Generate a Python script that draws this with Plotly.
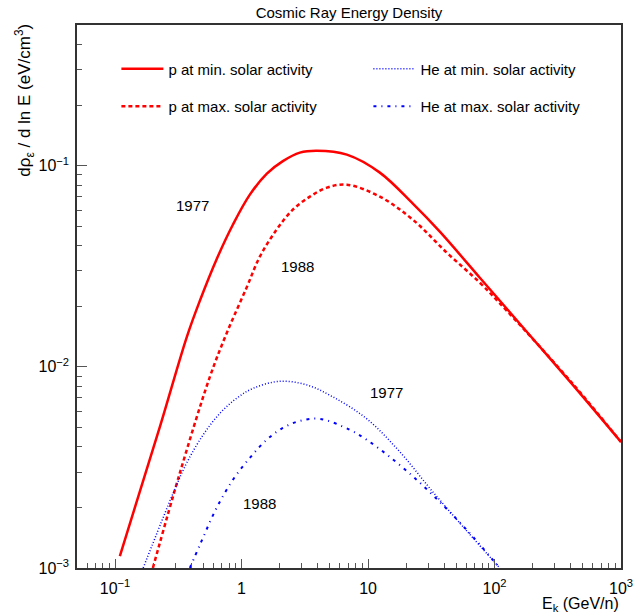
import plotly.graph_objects as go

# ---- data ----
p_min_E = [0.1091, 0.2260, 0.3694, 0.4681, 0.6378, 0.8535, 1.163, 1.585, 2.121, 2.890, 3.938, 6.800, 12.40, 22.61, 36.95, 76.53, 125.1, 228.1, 415.9, 1000]
p_min_y = [0.001147, 0.005029, 0.01410, 0.02130, 0.03446, 0.05085, 0.07173, 0.09125, 0.1053, 0.1161, 0.1187, 0.1134, 0.09231, 0.06470, 0.04694, 0.02772, 0.01943, 0.01258, 0.008135, 0.004234]

p_max_E = [0.1990, 0.3253, 0.5616, 0.7651, 1.095, 1.395, 1.891, 2.544, 3.467, 4.724, 6.800, 12.40, 22.61, 41.97, 76.53, 125.1, 415.9, 1000]
p_max_y = [0.001, 0.002970, 0.008916, 0.01476, 0.02472, 0.03527, 0.04802, 0.06040, 0.07013, 0.07771, 0.08043, 0.07013, 0.05386, 0.03692, 0.02618, 0.01899, 0.008229, 0.00423]

he_min_E = [0.1668, 0.2878, 0.3674, 0.4970, 0.6740, 0.9130, 1.235, 2.008, 3.265, 5.269, 9.784, 17.84, 32.54, 60.40, 110.1]
he_min_y = [0.001, 0.002353, 0.003318, 0.004590, 0.005870, 0.006972, 0.007816, 0.008472, 0.008135, 0.007090, 0.005511, 0.003777, 0.002388, 0.001528, 0.001]

he_max_E = [0.3902, 0.4681, 0.6344, 0.8535, 1.163, 1.576, 2.121, 2.890, 4.159, 7.179, 9.784, 14.87, 24.31, 39.02, 60.40, 110.1]
he_max_y = [0.001, 0.001302, 0.001988, 0.002741, 0.003526, 0.004333, 0.004970, 0.005386, 0.005511, 0.004858, 0.004333, 0.003566, 0.002741, 0.002058, 0.001545, 0.001]

x_tickvals = [0.1, 1, 10, 100, 1000]
x_ticktext = ["10<sup>−1</sup>", "1", "10", "10<sup>2</sup>", "10<sup>3</sup>"]
y_tickvals = [0.001, 0.01, 0.1]
y_ticktext = ["10<sup>−3</sup>", "10<sup>−2</sup>", "10<sup>−1</sup>"]

year_labels = ["1977", "1988", "1977", "1988"]
year_x = [-0.385, 0.445, 1.149, 0.145]      # log10(E) positions
year_y = [-1.199, -1.502, -2.129, -2.677]   # log10(y) positions

FONT = "Liberation Sans"
RED = "#ff0000"
BLUE = "#0000ff"

fig = go.Figure()
fig.add_trace(go.Scatter(x=p_min_E, y=p_min_y, mode="lines", name="p at min. solar activity",
                         line=dict(color=RED, width=2.5, shape="spline"), legend="legend", legendgroup="a"))
fig.add_trace(go.Scatter(x=p_max_E, y=p_max_y, mode="lines", name="p at max. solar activity",
                         line=dict(color=RED, width=2.5, dash="4px,3px", shape="spline"), legend="legend", legendgroup="b"))
fig.add_trace(go.Scatter(x=he_min_E, y=he_min_y, mode="lines", name="He at min. solar activity",
                         line=dict(color=BLUE, width=1.5, dash="1px,2px", shape="spline"), legend="legend2", legendgroup="c"))
fig.add_trace(go.Scatter(x=he_max_E, y=he_max_y, mode="lines", name="He at max. solar activity",
                         line=dict(color=BLUE, width=2, dash="3px,5px,1px,5px", shape="spline"), legend="legend2", legendgroup="d"))

minor_x = [m * 10 ** k for k in range(-2, 3) for m in range(2, 10)]
minor_x = [v for v in minor_x if 0.05 <= v <= 1000]
minor_y = [m * 10 ** k for k in range(-3, 0) for m in range(2, 10)]
minor_y = [v for v in minor_y if v <= 0.5]

axis_common = dict(showgrid=False, zeroline=False, showline=True, linecolor="#333333", linewidth=1.5,
                   mirror=True, ticks="inside", tickcolor="#555555", tickwidth=1.2, automargin=False,
                   tickfont=dict(family=FONT, size=16, color="black"))

fig.update_xaxes(type="log", range=[-1.30103, 3], tickmode="array", tickvals=x_tickvals, ticktext=x_ticktext,
                 ticklen=9, ticklabelstandoff=5,
                 minor=dict(ticks="inside", ticklen=5, tickvals=minor_x, tickcolor="#555555", tickwidth=1.2),
                 **axis_common)
fig.update_yaxes(type="log", range=[-3, -0.30103], tickmode="array", tickvals=y_tickvals, ticktext=y_ticktext,
                 ticklen=10, ticklabelstandoff=3,
                 minor=dict(ticks="inside", ticklen=5, tickvals=minor_y, tickcolor="#555555", tickwidth=1.2),
                 **axis_common)

annotations = []
for t, ax, ay in zip(year_labels, year_x, year_y):
    annotations.append(dict(x=ax, y=ay, xref="x", yref="y", text=t, showarrow=False,
                            font=dict(family=FONT, size=15, color="black")))
annotations.append(dict(x=-0.096, y=0.862, xref="paper", yref="paper", xanchor="center", yanchor="middle",
                        text="dρ<sub>ε</sub> / d ln E (eV/cm<sup>3</sup>)", textangle=-90, showarrow=False,
                        font=dict(family=FONT, size=17, color="black")))
annotations.append(dict(x=1.0, y=-0.068, xref="paper", yref="paper", xanchor="right", yanchor="middle",
                        text="E<sub>k</sub> (GeV/n)", showarrow=False,
                        font=dict(family=FONT, size=16, color="black")))

leg_common = dict(xanchor="left", yanchor="top", bgcolor="rgba(0,0,0,0)", borderwidth=0,
                  font=dict(family=FONT, size=15, color="black"), tracegroupgap=15, itemwidth=42,
                  orientation="v")
fig.update_layout(
    width=636, height=613,
    margin=dict(l=77, r=15, t=25, b=45),
    paper_bgcolor="white", plot_bgcolor="white",
    title=dict(text="Cosmic Ray Energy Density", x=0.5, xref="paper", xanchor="center",
               y=0.980, yanchor="middle", font=dict(family=FONT, size=15, color="black")),
    annotations=annotations,
    legend=dict(x=0.0724, y=0.9495, **leg_common),
    legend2=dict(x=0.5357, y=0.9495, **leg_common),
)

# remove the browser's default 8px page margin so the 636x613 figure fills the window exactly
fig.write_html("out.html", config={"displayModeBar": False},
               post_script="document.body.style.margin='0';document.body.style.overflow='hidden';")
